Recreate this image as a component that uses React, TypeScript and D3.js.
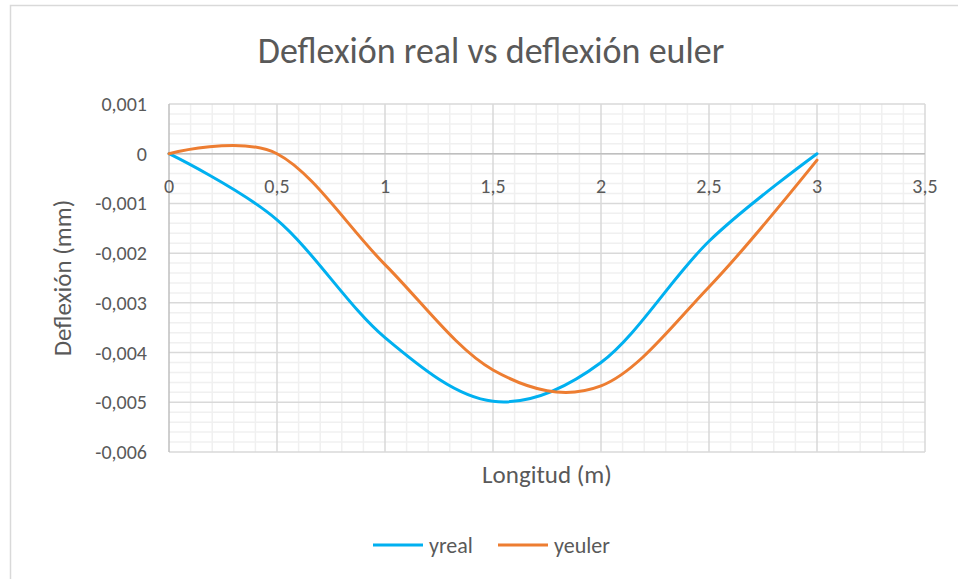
import React, { useRef, useEffect } from 'react';
import * as d3 from 'd3';

// Longitud (m)
const longitud = [0, 0.5, 1, 1.5, 2, 2.5, 3];
// Deflexión (mm)
const yreal = [0, -0.00133, -0.0037, -0.00498, -0.0042, -0.00176, 0];
const yeuler = [0, 0, -0.00223, -0.00435, -0.00467, -0.00268, -0.00013];

const xTicks = [0, 0.5, 1, 1.5, 2, 2.5, 3, 3.5];
const yTicks = [0.001, 0, -0.001, -0.002, -0.003, -0.004, -0.005, -0.006];

const seriesNames = ['yreal', 'yeuler'];
const seriesColors = ['#00B0F0', '#ED7D31'];

const FONT = 'Calibri, Carlito, Lato, sans-serif';
const TEXT = '#595959';

const App = () => {
    const chartRef = useRef<SVGSVGElement | null>(null);

    useEffect(() => {
        d3.select(chartRef.current).selectAll("*").remove();

        const W = 958, H = 579;
        const svg = d3.select(chartRef.current)
            .attr("width", W)
            .attr("height", H)
            .style("position", "absolute")
            .style("left", 0)
            .style("top", 0)
            .style("font-family", FONT);

        svg.append("rect").attr("width", W).attr("height", H).attr("fill", "#fff");

        // chart frame (top + left edges visible)
        svg.append("path")
            .attr("d", `M10.5,${H} V5.5 H${W}`)
            .attr("fill", "none")
            .attr("stroke", "#d9d9d9")
            .attr("stroke-width", 1.5);

        const x = d3.scaleLinear().domain([0, 3.5]).range([169, 925]);
        const y = d3.scaleLinear().domain([-0.006, 0.001]).range([452, 104]);

        const g = svg.append("g");

        // minor grid
        const xMinor = d3.range(0, 35).map(i => i / 10).filter(v => Math.abs(v * 2 - Math.round(v * 2)) > 1e-6);
        const yMinor = d3.range(-30, 5).map(i => i * 0.0002).filter(v => Math.abs(v * 1000 - Math.round(v * 1000)) > 1e-6);

        g.selectAll(".xminor").data(xMinor).join("line")
            .attr("x1", d => x(d)).attr("x2", d => x(d))
            .attr("y1", y(0.001)).attr("y2", y(-0.006))
            .attr("stroke", "#f0f0f0").attr("stroke-width", 1.5);
        g.selectAll(".yminor").data(yMinor).join("line")
            .attr("x1", x(0)).attr("x2", x(3.5))
            .attr("y1", d => y(d)).attr("y2", d => y(d))
            .attr("stroke", "#f0f0f0").attr("stroke-width", 1.5);

        // major grid
        g.selectAll(".xmajor").data(xTicks.slice(1)).join("line")
            .attr("x1", d => x(d)).attr("x2", d => x(d))
            .attr("y1", y(0.001)).attr("y2", y(-0.006))
            .attr("stroke", "#d9d9d9").attr("stroke-width", 1.5);
        g.selectAll(".ymajor").data(yTicks).join("line")
            .attr("x1", x(0)).attr("x2", x(3.5))
            .attr("y1", d => y(d)).attr("y2", d => y(d))
            .attr("stroke", "#d9d9d9").attr("stroke-width", 1.5);

        // axes
        g.append("line")
            .attr("x1", x(0)).attr("x2", x(0))
            .attr("y1", y(0.001)).attr("y2", y(-0.006))
            .attr("stroke", "#bfbfbf").attr("stroke-width", 1.5);
        g.append("line")
            .attr("x1", x(0)).attr("x2", x(3.5))
            .attr("y1", y(0)).attr("y2", y(0))
            .attr("stroke", "#bfbfbf").attr("stroke-width", 1.5);

        const fmt = (v: number) => (Math.abs(v) < 1e-12 ? "0" : String(+v.toFixed(3)).replace(".", ","));

        // y tick labels
        g.selectAll(".ylab").data(yTicks).join("text")
            .attr("x", 147)
            .attr("y", d => y(d))
            .attr("dy", "0.35em")
            .attr("text-anchor", "end")
            .attr("font-size", 20)
            .attr("fill", TEXT)
            .text(d => fmt(d));

        // x tick labels (next to the zero axis)
        g.selectAll(".xlab").data(xTicks).join("text")
            .attr("x", d => x(d))
            .attr("y", y(0) + 39)
            .attr("text-anchor", "middle")
            .attr("font-size", 20)
            .attr("fill", TEXT)
            .text(d => fmt(d));

        // series
        const line = d3.line<number>()
            .x((_, i) => x(longitud[i]))
            .y(d => y(d))
            .curve(d3.curveCardinal.tension(0));

        [yreal, yeuler].forEach((s, k) => {
            g.append("path")
                .datum(s)
                .attr("fill", "none")
                .attr("stroke", seriesColors[k])
                .attr("stroke-width", 3)
                .attr("stroke-linecap", "round")
                .attr("d", line);
        });

        // title
        svg.append("text")
            .attr("x", 491).attr("y", 63)
            .attr("text-anchor", "middle")
            .attr("font-size", 36)
            .attr("fill", TEXT)
            .text("Deflexión real vs deflexión euler");

        // axis titles
        svg.append("text")
            .attr("x", 547).attr("y", 483)
            .attr("text-anchor", "middle")
            .attr("font-size", 25)
            .attr("fill", TEXT)
            .text("Longitud (m)");

        svg.append("text")
            .attr("transform", `translate(71,${(y(0.001) + y(-0.006)) / 2}) rotate(-90)`)
            .attr("text-anchor", "middle")
            .attr("font-size", 25)
            .attr("fill", TEXT)
            .text("Deflexión (mm)");

        // legend
        const legendX = [373, 498];
        seriesNames.forEach((name, k) => {
            svg.append("line")
                .attr("x1", legendX[k]).attr("x2", legendX[k] + 50)
                .attr("y1", 545).attr("y2", 545)
                .attr("stroke", seriesColors[k])
                .attr("stroke-width", 3);
            svg.append("text")
                .attr("x", legendX[k] + 56).attr("y", 545)
                .attr("dy", "0.35em")
                .attr("font-size", 22)
                .attr("fill", TEXT)
                .text(name);
        });
    }, []);

    return <svg ref={chartRef}></svg>;
};

export default App;
